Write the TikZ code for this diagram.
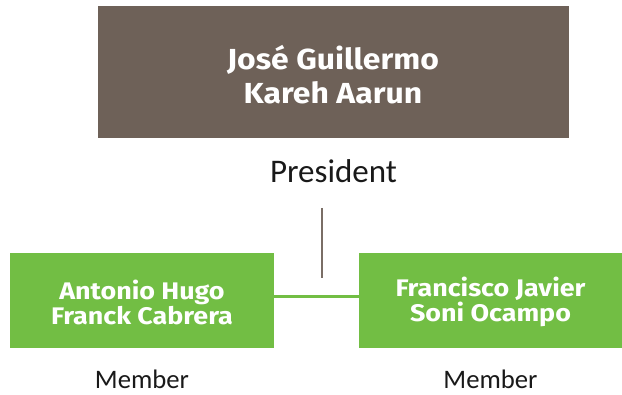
\documentclass[tikz,border=0pt]{standalone}
\usepackage{fontspec}
\setmainfont{Carlito}
\newfontfamily\bignamefont{Fira Sans Bold}[FakeStretch=1.10]
\newfontfamily\smallnamefont{Fira Sans Bold}[FakeStretch=1.12]
\definecolor{brownbox}{HTML}{6E6158}
\definecolor{greenbox}{HTML}{72BE44}
\definecolor{vline}{HTML}{7A6E66}
\begin{document}
\begin{tikzpicture}[x=1pt,y=-1pt,
  box/.style={inner sep=0pt, draw=none},
  bigname/.style={inner sep=0pt, align=center, text=white, font=\bignamefont\fontsize{29}{34}\selectfont},
  smallname/.style={inner sep=0pt, align=center, text=white, font=\smallnamefont\fontsize{24}{25}\selectfont},
  rolelabel/.style={inner sep=0pt, anchor=base, text=black!90}]
\useasboundingbox (0,0) rectangle (622,395);
\node[box, fill=brownbox, minimum width=471pt, minimum height=132pt] (pres) at (333.5,72) {};
\node[bigname] (presname) at (333,75) {José Guillermo\\Kareh Aarun};
\node[rolelabel, font=\fontsize{33}{33}\selectfont] (preslabel) at (333.5,183) {President};
\node[box, fill=greenbox, minimum width=264pt, minimum height=95pt] (m1) at (142,300.5) {};
\node[box, fill=greenbox, minimum width=263pt, minimum height=95pt] (m2) at (490.5,300.5) {};
\node[smallname] (m1name) at (142,302) {Antonio Hugo\\Franck Cabrera};
\node[smallname] (m2name) at (490.5,302) {Francisco Javier\\Soni Ocampo};
\node[rolelabel, font=\fontsize{26.7}{27}\selectfont] (l1) at (142,389) {Member};
\node[rolelabel, font=\fontsize{26.7}{27}\selectfont] (l2) at (490.5,389) {Member};
\coordinate (vtop) at (322,208);
\coordinate (vbot) at (322,278);
\draw[vline, line width=2pt] (vtop) -- (vbot);
\draw[greenbox, line width=3pt] (m1.east |- 0,297) -- (m2.west |- 0,297);
\end{tikzpicture}
\end{document}
